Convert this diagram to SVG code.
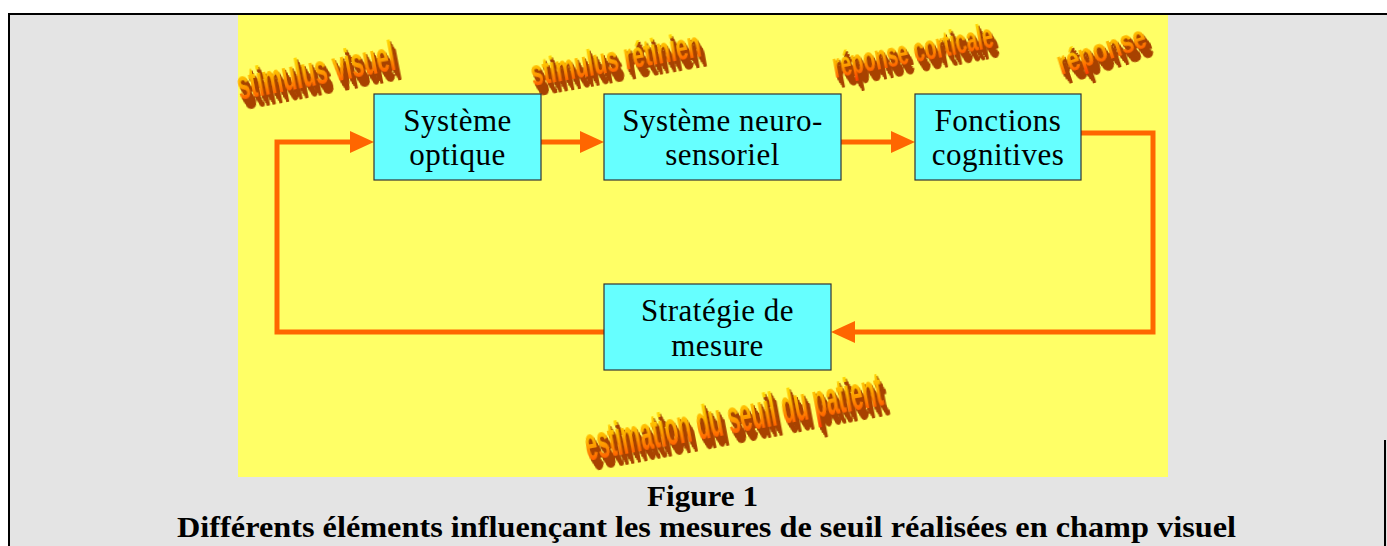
<svg xmlns="http://www.w3.org/2000/svg" width="1387" height="546" viewBox="0 0 1387 546">
<style>
.box{fill:#66ffff;stroke:#333333;stroke-width:1.2}
.lbl{font-family:"Liberation Serif","Times New Roman",serif;font-size:31px;letter-spacing:0.5px;fill:#000;text-anchor:middle}
.cap{font-family:"Liberation Serif","Times New Roman",serif;font-size:30px;font-weight:bold;fill:#000;text-anchor:middle}
.wa{font-family:"Liberation Sans",Arial,sans-serif;font-weight:bold;fill:url(#waGrad);filter:url(#extrude)}
.conn{fill:none;stroke:#ff6600;stroke-width:5;stroke-linejoin:miter}
</style>
<defs>
<linearGradient id="waGrad" x1="0" y1="0" x2="0" y2="1">
<stop offset="0" stop-color="#ffee00"/>
<stop offset="0.45" stop-color="#ffb000"/>
<stop offset="1" stop-color="#ff3a00"/>
</linearGradient>
<filter id="extrude" x="-20%" y="-60%" width="150%" height="260%">
<feOffset in="SourceAlpha" dx="0.6" dy="1.6" result="o1"/>
<feOffset in="SourceAlpha" dx="1.2" dy="3.2" result="o2"/>
<feOffset in="SourceAlpha" dx="1.8" dy="4.8" result="o3"/>
<feOffset in="SourceAlpha" dx="2.4" dy="6.4" result="o4"/>
<feOffset in="SourceAlpha" dx="3" dy="8" result="o5"/>
<feOffset in="SourceAlpha" dx="3.6" dy="9.6" result="o6"/>
<feOffset in="SourceAlpha" dx="4.2" dy="11.2" result="o7"/>
<feMerge result="ext"><feMergeNode in="o1"/><feMergeNode in="o2"/><feMergeNode in="o3"/><feMergeNode in="o4"/><feMergeNode in="o5"/><feMergeNode in="o6"/><feMergeNode in="o7"/></feMerge>
<feFlood flood-color="#a84300"/>
<feComposite operator="in" in2="ext" result="shadow"/>
<feMerge><feMergeNode in="shadow"/><feMergeNode in="SourceGraphic"/></feMerge>
</filter>
<marker id="arrow" markerUnits="userSpaceOnUse" markerWidth="26" markerHeight="24" refX="2" refY="11" orient="auto">
<path d="M0,0 L24,11 L0,22 Z" fill="#ff6600"/>
</marker>
</defs>

<rect x="0" y="0" width="1387" height="546" fill="#ffffff"/>
<rect x="9" y="14" width="1390" height="540" fill="#e4e4e4" stroke="#000" stroke-width="2"/>
<line x1="1385" y1="440" x2="1385" y2="546" stroke="#000" stroke-width="2"/>
<rect x="238" y="15" width="930" height="462" fill="#ffff66"/>

<g id="wordart">
<text class="wa" transform="translate(240,100) rotate(-11)" font-size="42" textLength="160" lengthAdjust="spacingAndGlyphs">stimulus visuel</text>
<text class="wa" transform="translate(533,86) rotate(-10)" font-size="37" textLength="172" lengthAdjust="spacingAndGlyphs">stimulus rétinien</text>
<text class="wa" transform="translate(835,78) rotate(-11)" font-size="35" textLength="163" lengthAdjust="spacingAndGlyphs">réponse corticale</text>
<text class="wa" transform="translate(1061,75) rotate(-18)" font-size="34" textLength="92" lengthAdjust="spacingAndGlyphs">réponse</text>
<text class="wa" transform="translate(588,461) rotate(-10.7)" font-size="48" textLength="302" lengthAdjust="spacingAndGlyphs">estimation du seuil du patient</text>
</g>

<g id="connectors">
<line class="conn" x1="541" y1="142" x2="582" y2="142" marker-end="url(#arrow)"/>
<line class="conn" x1="841" y1="142" x2="893" y2="142" marker-end="url(#arrow)"/>
<polyline class="conn" points="1081,133 1153,133 1153,332 853,332" marker-end="url(#arrow)"/>
<polyline class="conn" points="604,332 277,332 277,142 352,142" marker-end="url(#arrow)"/>
</g>

<g id="node-optique">
<rect class="box" x="374" y="94" width="167" height="86"/>
<text class="lbl" x="457.5" y="131">Système</text>
<text class="lbl" x="457.5" y="165">optique</text>
</g>
<g id="node-neuro">
<rect class="box" x="604" y="94" width="237" height="86"/>
<text class="lbl" x="722.5" y="131">Système neuro-</text>
<text class="lbl" x="722.5" y="165">sensoriel</text>
</g>
<g id="node-cognitives">
<rect class="box" x="915" y="94" width="166" height="86"/>
<text class="lbl" x="998" y="131">Fonctions</text>
<text class="lbl" x="998" y="165">cognitives</text>
</g>
<g id="node-strategie">
<rect class="box" x="604" y="284" width="227" height="86"/>
<text class="lbl" x="717.5" y="321">Stratégie de</text>
<text class="lbl" x="717.5" y="356">mesure</text>
</g>

<g id="caption">
<text class="cap" x="702.5" y="506" textLength="111" lengthAdjust="spacingAndGlyphs">Figure 1</text>
<text class="cap" x="706.5" y="537" textLength="1059" lengthAdjust="spacingAndGlyphs">Différents éléments influençant les mesures de seuil réalisées en champ visuel</text>
</g>
</svg>
